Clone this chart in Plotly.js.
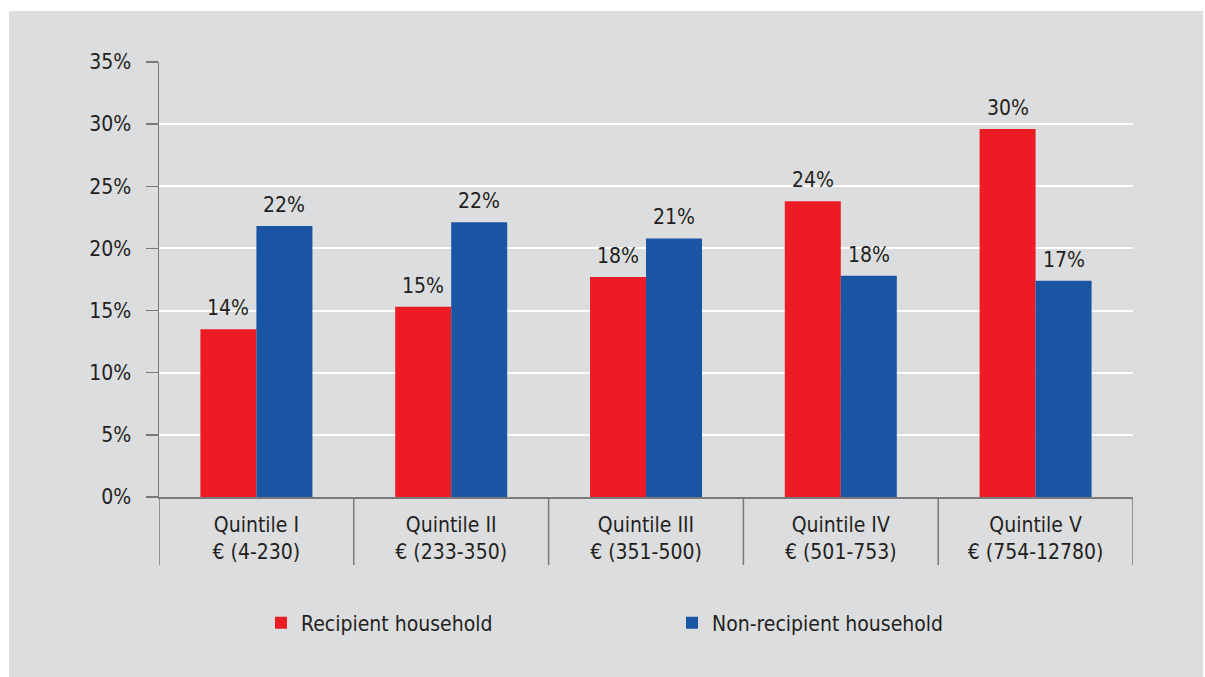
<!DOCTYPE html>
<html>
<head>
<meta charset="utf-8">
<script src="https://cdn.plot.ly/plotly-3.0.1.min.js"></script>
<style>html,body{margin:0;padding:0;background:#fff;}#chart{width:1205px;height:677px;}</style>
</head>
<body>
<div id="chart"></div>
<script>
const categories = ["Quintile I<br>€ (4-230)", "Quintile II<br>€ (233-350)", "Quintile III<br>€ (351-500)", "Quintile IV<br>€ (501-753)", "Quintile V<br>€ (754-12780)"];
const recipient = [13.5, 15.3, 17.7, 23.8, 29.6];
const recipientLabels = ["14%", "15%", "18%", "24%", "30%"];
const nonRecipient = [21.8, 22.1, 20.8, 17.8, 17.4];
const nonRecipientLabels = ["22%", "22%", "21%", "18%", "17%"];
const yTicks = [0, 5, 10, 15, 20, 25, 30, 35];
const yTickLabels = ["0%", "5%", "10%", "15%", "20%", "25%", "30%", "35%"];

const FONT = "'DejaVu Sans Condensed', 'Liberation Sans Narrow', 'Roboto', sans-serif";
const TXT = "#231f20";

const W = 1205, H = 677;
const L = 159, R = 72, T = 62, B = 180;
const pw = W - L - R, ph = H - T - B;
const px = v => (v - L) / pw;
const py = v => (H - B - v) / ph;

const BARGAP = 0.425;
const barW = (1 - BARGAP) / 2;
const xs = categories.map((c, i) => i);

const traces = [
  {type: "bar", name: "Recipient household", x: xs, y: recipient,
   marker: {color: "#ed1c24"}},
  {type: "bar", name: "Non-recipient household", x: xs, y: nonRecipient,
   marker: {color: "#1a55a4"}}
];

const annotations = [];
xs.forEach((x, i) => {
  annotations.push({x: x - barW / 2, y: recipient[i], xref: "x", yref: "y", text: recipientLabels[i],
    showarrow: false, yanchor: "bottom", xanchor: "center", yshift: 7,
    font: {family: FONT, size: 21, color: TXT}});
  annotations.push({x: x + barW / 2, y: nonRecipient[i], xref: "x", yref: "y", text: nonRecipientLabels[i],
    showarrow: false, yanchor: "bottom", xanchor: "center", yshift: 7,
    font: {family: FONT, size: 21, color: TXT}});
});

const shapes = [
  {type: "rect", xref: "paper", yref: "paper", x0: px(9), x1: px(1203), y0: py(677), y1: py(11),
   fillcolor: "#dcdddf", line: {width: 0}, layer: "below"}
];
for (let i = 0; i <= categories.length; i++) {
  shapes.push({type: "line", xref: "x", yref: "paper", x0: i - 0.5, x1: i - 0.5, y0: 0, y1: py(565),
    line: {color: "#7a7a7a", width: 1.5}});
}

const layout = {
  width: W, height: H,
  margin: {l: L, r: R, t: T, b: B},
  paper_bgcolor: "#ffffff",
  plot_bgcolor: "rgba(0,0,0,0)",
  font: {family: FONT, color: TXT, size: 20},
  barmode: "group",
  bargap: BARGAP,
  bargroupgap: 0,
  showlegend: true,
  legend: {orientation: "h", x: px(261), xanchor: "left", y: py(623), yanchor: "middle",
    font: {family: FONT, size: 21, color: TXT}, bgcolor: "rgba(0,0,0,0)", entrywidth: 366, entrywidthmode: "pixels"},
  xaxis: {
    tickmode: "array", tickvals: xs, ticktext: categories,
    range: [-0.5, categories.length - 0.5],
    showgrid: false, zeroline: false, showline: true, linecolor: "#7a7a7a", linewidth: 1.5,
    ticks: "", ticklabelstandoff: 8,
    tickfont: {family: FONT, size: 21, color: TXT}
  },
  yaxis: {
    range: [0, 35], tickmode: "array", tickvals: yTicks, ticktext: yTickLabels,
    showgrid: true, gridcolor: "#ffffff", gridwidth: 2,
    zeroline: false, showline: true, linecolor: "#7a7a7a", linewidth: 1.5,
    ticks: "outside", ticklen: 12, tickcolor: "#7a7a7a", tickwidth: 1.5,
    ticklabelstandoff: 10,
    tickfont: {family: FONT, size: 21, color: TXT}
  },
  annotations: annotations,
  shapes: shapes
};

Plotly.newPlot("chart", traces, layout, {displayModeBar: false, staticPlot: true});
</script>
</body>
</html>
